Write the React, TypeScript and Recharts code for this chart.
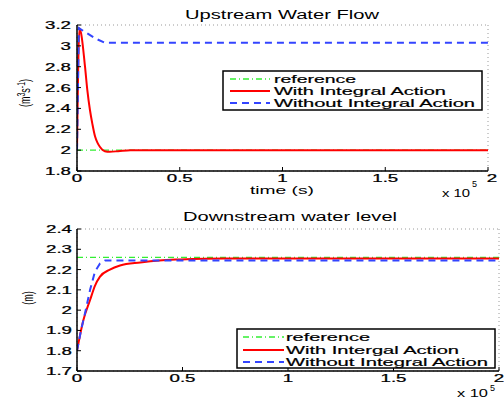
import React from 'react';
import { LineChart, Line, XAxis, YAxis, CartesianGrid } from 'recharts';

// ---- Upstream Water Flow data ----
const upRefT = [0, 200000];
const upRefV = [2, 2];
const upWithT = [0, 1200, 2000, 3900, 5000, 6300, 7500, 8800, 10000, 11200, 13500, 16000, 20000, 26000, 200000];
const upWithV = [2.0, 3.17, 3.12, 2.8, 2.58, 2.385, 2.25, 2.13, 2.07, 2.03, 1.99, 1.985, 1.99, 2.0, 2.0];
const upWithoutT = [0, 900, 5000, 9000, 13500, 200000];
const upWithoutV = [2.0, 3.17, 3.12, 3.07, 3.03, 3.03];

// ---- Downstream water level data ----
const dnRefT = [0, 200000];
const dnRefV = [2.26, 2.26];
const dnWithT = [0, 3000, 6200, 8500, 10900, 15600, 20400, 30000, 39000, 49000, 70000, 200000];
const dnWithV = [1.8, 1.95, 2.05, 2.12, 2.165, 2.2, 2.22, 2.235, 2.245, 2.25, 2.255, 2.255];
const dnWithoutT = [0, 1900, 3800, 6200, 8500, 10900, 13300, 200000];
const dnWithoutV = [1.8, 1.9, 1.985, 2.1, 2.19, 2.23, 2.245, 2.245];

const xTicks = [0, 50000, 100000, 150000, 200000];
const upYTicks = [1.8, 2, 2.2, 2.4, 2.6, 2.8, 3, 3.2];
const dnYTicks = [1.7, 1.8, 1.9, 2, 2.1, 2.2, 2.3, 2.4];

const upLegend = ['reference', 'With Integral Action', 'Without Integral Action'];
const dnLegend = ['reference', 'With Intergal Action', 'Without Integral Action'];

const zip = (t: number[], v: number[]) => t.map((tt, i) => ({ t: tt, v: v[i] }));

const FONT = 'Liberation Sans, Arial, sans-serif';
const SX = 1.7;

const fmt = (v: number) => String(Math.round(v * 10) / 10);
const fmtX = (v: number) => String(Math.round((v / 100000) * 10) / 10);

const makeXTick = (baseY: number, lastShift: number) => (props: any) => {
  const { x, payload } = props;
  const dx = payload.value === 200000 ? lastShift : 0;
  return (
    <g transform={`translate(${x + dx},${baseY})`}>
      <text transform={`scale(${SX},1)`} textAnchor="middle" fontSize={11} fontFamily={FONT} fill="#000" stroke="#000" strokeWidth={0.25}>
        {fmtX(payload.value)}
      </text>
    </g>
  );
};
const makeYTick = (rightX: number) => (props: any) => {
  const { y, payload } = props;
  return (
    <g transform={`translate(${rightX},${y + 4})`}>
      <text transform={`scale(${SX},1)`} textAnchor="end" fontSize={11} fontFamily={FONT} fill="#000" stroke="#000" strokeWidth={0.25}>
        {fmt(payload.value)}
      </text>
    </g>
  );
};
const emptyTick = () => <g />;

const RED = '#ff0000';
const BLUE = '#3344ff';
const GREEN = '#33ee33';

function Panel(props: {
  top: number;
  margin: any;
  yDomain: number[];
  yTicks: number[];
  refD: any[];
  withD: any[];
  withoutD: any[];
  xTickY: number;
  yTickX: number;
  lastShift: number;
}) {
  const { top, margin, yDomain, yTicks, refD, withD, withoutD, xTickY, yTickX, lastShift } = props;
  const axisLine = { stroke: '#000', strokeWidth: 1.5 };
  const tickLine = { stroke: '#000', strokeWidth: 1 };
  return (
    <div style={{ position: 'absolute', left: 0, top }}>
      <LineChart width={504} height={200} margin={margin}>
        <CartesianGrid stroke="#9a9a9a" strokeDasharray="1 3" strokeWidth={1} />
        <XAxis
          xAxisId="b"
          type="number"
          dataKey="t"
          domain={[0, 200000]}
          ticks={xTicks}
          interval={0}
          height={20}
          axisLine={axisLine}
          tickLine={tickLine}
          tickSize={-4}
          tick={makeXTick(xTickY, lastShift)}
          allowDataOverflow
        />
        <XAxis
          xAxisId="top"
          orientation="top"
          type="number"
          dataKey="t"
          domain={[0, 200000]}
          ticks={xTicks}
          interval={0}
          height={0}
          tick={emptyTick}
          tickLine={tickLine}
          tickSize={-4}
          axisLine={axisLine}
        />
        <YAxis
          yAxisId="l"
          type="number"
          domain={yDomain}
          ticks={yTicks}
          interval={0}
          width={50}
          axisLine={axisLine}
          tickLine={tickLine}
          tickSize={-4}
          tick={makeYTick(yTickX)}
          allowDataOverflow
        />
        <YAxis
          yAxisId="r"
          orientation="right"
          type="number"
          domain={yDomain}
          ticks={yTicks}
          interval={0}
          width={0}
          tick={emptyTick}
          tickLine={tickLine}
          tickSize={-4}
          axisLine={axisLine}
        />
        <Line xAxisId="b" yAxisId="l" data={refD} dataKey="v" type="linear" stroke={GREEN} strokeWidth={1.3} strokeDasharray="6 3 1 3" dot={false} isAnimationActive={false} />
        <Line xAxisId="b" yAxisId="l" data={withD} dataKey="v" type="monotone" stroke={RED} strokeWidth={2} dot={false} isAnimationActive={false} />
        <Line xAxisId="b" yAxisId="l" data={withoutD} dataKey="v" type="linear" stroke={BLUE} strokeWidth={2} strokeDasharray="7 5" dot={false} isAnimationActive={false} />
      </LineChart>
    </div>
  );
}

function LegendBox(props: { x: number; y: number; w: number; h: number; sx0: number; sx1: number; tx: number; rows: number[]; labels: string[]; lens: number[] }) {
  const { x, y, w, h, sx0, sx1, tx, rows, labels, lens } = props;
  const styles = [
    { stroke: GREEN, dash: '6 3 1 3', sw: 1.3 },
    { stroke: RED, dash: undefined, sw: 2 },
    { stroke: BLUE, dash: '7 5', sw: 2 },
  ];
  return (
    <g>
      <rect x={x} y={y} width={w} height={h} fill="#fff" stroke="#000" strokeWidth={1.5} />
      {labels.map((l, i) => (
        <g key={l}>
          <line x1={sx0} x2={sx1} y1={rows[i]} y2={rows[i]} stroke={styles[i].stroke} strokeWidth={styles[i].sw} strokeDasharray={styles[i].dash} />
          <text x={tx} y={rows[i] + 4} fontSize={11} fontFamily={FONT} textLength={lens[i]} lengthAdjust="spacingAndGlyphs" fill="#000" stroke="#000" strokeWidth={0.2}>
            {l}
          </text>
        </g>
      ))}
    </g>
  );
}

export default function App() {
  return (
    <div style={{ position: 'absolute', left: 0, top: 0, width: 504, height: 400, background: '#fff', overflow: 'hidden' }}>
      <Panel
        top={0}
        margin={{ top: 25, right: 16, bottom: 9, left: 27 }}
        yDomain={[1.8, 3.2]}
        yTicks={upYTicks}
        refD={zip(upRefT, upRefV)}
        withD={zip(upWithT, upWithV)}
        withoutD={zip(upWithoutT, upWithoutV)}
        xTickY={182}
        yTickX={71}
        lastShift={4}
      />
      <Panel
        top={200}
        margin={{ top: 29, right: 5, bottom: 9, left: 27 }}
        yDomain={[1.7, 2.4]}
        yTicks={dnYTicks}
        refD={zip(dnRefT, dnRefV)}
        withD={zip(dnWithT, dnWithV)}
        withoutD={zip(dnWithoutT, dnWithoutV)}
        xTickY={182}
        yTickX={72}
        lastShift={0}
      />
      <svg width={504} height={400} style={{ position: 'absolute', left: 0, top: 0, pointerEvents: 'none' }}>
        <text x={185} y={19} fontSize={12} fontFamily={FONT} textLength={194} lengthAdjust="spacingAndGlyphs">Upstream Water Flow</text>
        <text x={183} y={221} fontSize={12} fontFamily={FONT} textLength={214} lengthAdjust="spacingAndGlyphs">Downstream water level</text>
        <text x={250} y={194} fontSize={11} fontFamily={FONT} textLength={64} lengthAdjust="spacingAndGlyphs">time (s)</text>
        <text x={442} y={197} fontSize={11} fontFamily={FONT} textLength={28} lengthAdjust="spacingAndGlyphs">x 10</text>
        <text x={472} y={187} fontSize={9} fontFamily={FONT}>5</text>
        <text x={457} y={397} fontSize={11} fontFamily={FONT} textLength={31} lengthAdjust="spacingAndGlyphs">x 10</text>
        <text x={490} y={391} fontSize={9} fontFamily={FONT}>5</text>
        <g transform="translate(30,93) rotate(-90) scale(1,1.6)">
          <text textAnchor="middle" fontSize={9} fontFamily={FONT}>
            (m<tspan fontSize={7} dy={-3}>3</tspan><tspan dy={3}>s</tspan><tspan fontSize={7} dy={-3}>-1</tspan><tspan dy={3}>)</tspan>
          </text>
        </g>
        <g transform="translate(33,298) rotate(-90) scale(1,1.6)">
          <text textAnchor="middle" fontSize={9} fontFamily={FONT}>(m)</text>
        </g>
        <LegendBox x={223} y={71} w={259} h={39} sx0={230} sx1={270} tx={274} rows={[79, 91, 103]} labels={upLegend} lens={[82, 172, 201]} />
        <LegendBox x={237} y={329} w={258} h={39} sx0={243} sx1={284} tx={286} rows={[337, 350, 362]} labels={dnLegend} lens={[84, 173, 202]} />
      </svg>
    </div>
  );
}
